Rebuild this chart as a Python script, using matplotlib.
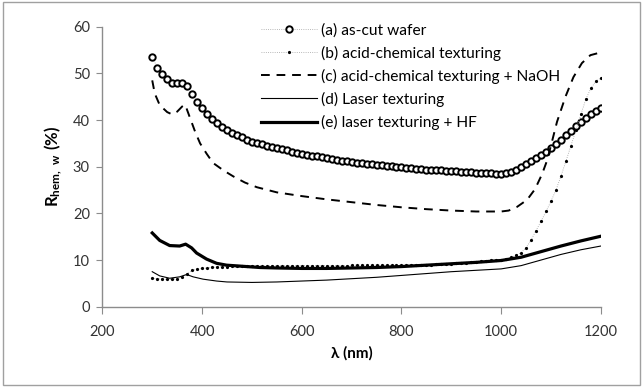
import numpy as np
import matplotlib
matplotlib.use("Agg")
import matplotlib.pyplot as plt
from matplotlib.patches import Rectangle

plt.rcParams['font.family'] = ['Lato', 'DejaVu Sans']
plt.rcParams['mathtext.fontset'] = 'custom'
plt.rcParams['mathtext.rm'] = 'Lato'
plt.rcParams['mathtext.bf'] = 'Lato:bold'

# wavelength grid (nm), 10 nm steps for the marker series
wl = np.arange(300, 1201, 10)

# (a) as-cut wafer
as_cut = [53.6, 51.2, 49.9, 48.8, 48.0, 47.9, 47.9, 47.3, 45.6, 43.9,
          42.5, 41.3, 40.3, 39.3, 38.5, 37.9, 37.3, 36.8, 36.3, 35.8,
          35.4, 35.1, 34.8, 34.5, 34.2, 34.0, 33.7, 33.5, 33.2, 33.0,
          32.8, 32.6, 32.4, 32.2, 32.0, 31.8, 31.7, 31.5, 31.3, 31.2,
          31.0, 30.9, 30.8, 30.6, 30.5, 30.4, 30.3, 30.2, 30.1, 30.0,
          29.9, 29.8, 29.7, 29.6, 29.5, 29.4, 29.3, 29.3, 29.2, 29.1,
          29.0, 29.0, 28.9, 28.8, 28.8, 28.7, 28.7, 28.6, 28.6, 28.5,
          28.5, 28.6, 28.9, 29.4, 30.0, 30.6, 31.2, 31.8, 32.5, 33.2,
          34.0, 34.8, 35.7, 36.7, 37.7, 38.7, 39.6, 40.5, 41.3, 41.9,
          42.5]

# (b) acid-chemical texturing
acid = [6.1, 6.0, 5.9, 5.9, 5.9, 6.0, 6.4, 7.0, 7.8, 8.0,
        8.2, 8.3, 8.4, 8.5, 8.6, 8.6, 8.7, 8.7, 8.7, 8.8,
        8.8, 8.8, 8.8, 8.8, 8.8, 8.8, 8.8, 8.8, 8.8, 8.8,
        8.8, 8.8, 8.8, 8.8, 8.8, 8.8, 8.8, 8.8, 8.8, 8.8,
        8.9, 8.9, 8.9, 8.9, 8.9, 8.9, 8.9, 8.9, 8.9, 8.9,
        8.9, 8.9, 8.9, 9.0, 9.0, 9.0, 9.0, 9.1, 9.1, 9.2,
        9.2, 9.3, 9.3, 9.4, 9.5, 9.6, 9.7, 9.8, 9.9, 10.0,
        10.1, 10.3, 10.6, 11.0, 11.6, 12.6, 14.3, 16.3, 18.3, 20.4,
        22.6, 25.0, 28.0, 31.2, 34.5, 37.8, 41.2, 44.5, 46.8, 48.3,
        49.0]

# (c) acid-chemical texturing + NaOH
wl_c = [300, 305, 315, 330, 340, 350, 360, 366, 376, 386, 396, 409, 422,
        443, 463, 486, 510, 550, 600, 650, 700, 750, 800, 850, 900, 950,
        1000, 1015, 1032, 1052, 1068, 1082, 1092, 1102, 1112, 1129, 1145,
        1162, 1179, 1200]
naoh = [48.5, 45.7, 43.2, 41.7, 41.2, 41.8, 42.9, 43.3, 40.4, 37.5, 35.0,
        32.8, 30.8, 29.2, 27.9, 26.6, 25.6, 24.5, 23.7, 23.0, 22.4, 21.8,
        21.3, 20.9, 20.6, 20.4, 20.4, 20.6, 21.4, 22.9, 25.2, 28.4, 31.3,
        35.4, 39.6, 45.0, 49.2, 52.2, 53.9, 54.5]

# (d) laser texturing
wl_d = [300, 315, 335, 355, 369, 382, 402, 429, 450, 500, 550, 600, 650,
        700, 750, 800, 850, 900, 950, 1000, 1040, 1080, 1120, 1160, 1200]
laser = [7.5, 6.6, 6.1, 6.4, 6.9, 6.4, 5.9, 5.5, 5.3, 5.2, 5.3, 5.5, 5.7,
         6.0, 6.3, 6.7, 7.1, 7.5, 7.8, 8.1, 8.8, 10.0, 11.2, 12.2, 13.0]

# (e) laser texturing + HF
wl_e = [300, 315, 335, 355, 367, 379, 389, 409, 429, 449, 476, 516, 550,
        600, 650, 700, 750, 800, 850, 900, 950, 1000, 1040, 1080, 1120,
        1160, 1200]
laser_hf = [15.8, 14.2, 13.1, 13.0, 13.4, 12.6, 11.5, 10.2, 9.3, 8.9, 8.7,
            8.4, 8.3, 8.2, 8.2, 8.3, 8.4, 8.6, 8.9, 9.2, 9.5, 9.9, 10.6,
            11.8, 13.0, 14.1, 15.1]

labels = ['(a) as-cut wafer', '(b) acid-chemical texturing',
          '(c) acid-chemical texturing + NaOH', '(d) Laser texturing',
          '(e) laser texturing + HF']

fig = plt.figure(figsize=(6.44, 3.87), dpi=100)
ax = fig.add_axes([0.159, 0.2075, 0.774, 0.7235])

ax.plot(wl, as_cut, color='#a0a0a0', lw=0.6, ls=':', marker='o', ms=4.6,
        mfc='white', mec='black', mew=1.4, label=labels[0])
ax.plot(wl, acid, color='#a0a0a0', lw=0.6, ls=':', marker='o', ms=2.3,
        mfc='black', mec='black', mew=0, label=labels[1])
ax.plot(wl_c, naoh, color='black', lw=1.4, ls=(0, (4.5, 3.5)), label=labels[2])
ax.plot(wl_d, laser, color='black', lw=0.8, label=labels[3])
ax.plot(wl_e, laser_hf, color='black', lw=2.3, label=labels[4])

ax.set_xlim(200, 1200)
ax.set_ylim(0, 60)
ax.set_xticks([200, 400, 600, 800, 1000, 1200])
ax.set_yticks([0, 10, 20, 30, 40, 50, 60])

for s in ['top', 'right']:
    ax.spines[s].set_visible(False)
for s in ['left', 'bottom']:
    ax.spines[s].set_color('#8c8c8c')
    ax.spines[s].set_linewidth(1.0)
ax.tick_params(axis='both', colors='#8c8c8c', labelcolor='#333333',
               labelsize=10.5, direction='out')
ax.tick_params(axis='x', length=5, pad=8)
ax.tick_params(axis='y', length=4, pad=5)

ax.set_xlabel('λ (nm)', fontsize=11, fontweight='bold', labelpad=5)
ax.set_ylabel(r'$\mathbf{R_{hem,\ w}\ (\%)}$', fontsize=12, labelpad=6)

ax.legend(loc='upper left', bbox_to_anchor=(0.305, 1.035), frameon=False,
          fontsize=11.2, handlelength=3.6, handletextpad=0.3,
          labelspacing=0.52, borderaxespad=0)

fig.patches.append(Rectangle((0.004, 0.004), 0.99, 0.99, transform=fig.transFigure,
                             fill=False, edgecolor='#a0a0a0', lw=1.0))

fig.savefig('out.png', dpi=100)
